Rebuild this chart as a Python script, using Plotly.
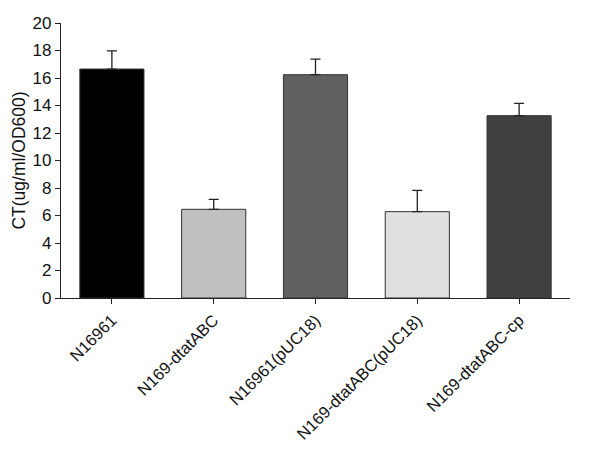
import plotly.graph_objects as go

# strains on the x axis
strains = ["N16961", "N169-dtatABC", "N16961(pUC18)", "N169-dtatABC(pUC18)", "N169-dtatABC-cp"]
# CT per OD600, and the upward error (SD)
ct_values = [16.65, 6.45, 16.24, 6.28, 13.26]
ct_errors = [1.33, 0.73, 1.14, 1.55, 0.90]
bar_colors = ["#000000", "#c0c0c0", "#606060", "#e0e0e0", "#404040"]

y_ticks = [0, 2, 4, 6, 8, 10, 12, 14, 16, 18, 20]

fig = go.Figure()
fig.add_trace(go.Bar(
    x=strains,
    y=ct_values,
    width=0.63,
    marker=dict(color=bar_colors, line=dict(color="#333333", width=1)),
    error_y=dict(type="data", array=ct_errors, symmetric=False,
                 arrayminus=[0] * len(ct_errors),
                 color="#222222", thickness=1.3, width=5),
))

# page body has an 8px margin, so the figure is 8px smaller than the window
fig.update_layout(
    width=592, height=441,
    margin=dict(l=53, r=30, t=15, b=151),
    plot_bgcolor="white", paper_bgcolor="white",
    font=dict(family="Liberation Sans, Arial, sans-serif", size=16, color="#111111"),
    showlegend=False,
    bargap=0.37,
)
fig.update_xaxes(
    range=[-0.5, 4.5], automargin=False,
    showline=True, linecolor="#222222", linewidth=1.3,
    ticks="outside", ticklen=5, tickcolor="#222222",
    tickangle=-45, tickfont=dict(size=16.5),
    showgrid=False,
)
fig.update_yaxes(
    range=[0, 20], tickvals=y_ticks, automargin=False,
    showline=True, linecolor="#222222", linewidth=1.3,
    ticks="outside", ticklen=5, tickcolor="#222222",
    tickfont=dict(size=17),
    showgrid=False, zeroline=False,
    title=dict(text="CT(ug/ml/OD600)", font=dict(size=17.5), standoff=2),
)

fig.write_html("out.html")
